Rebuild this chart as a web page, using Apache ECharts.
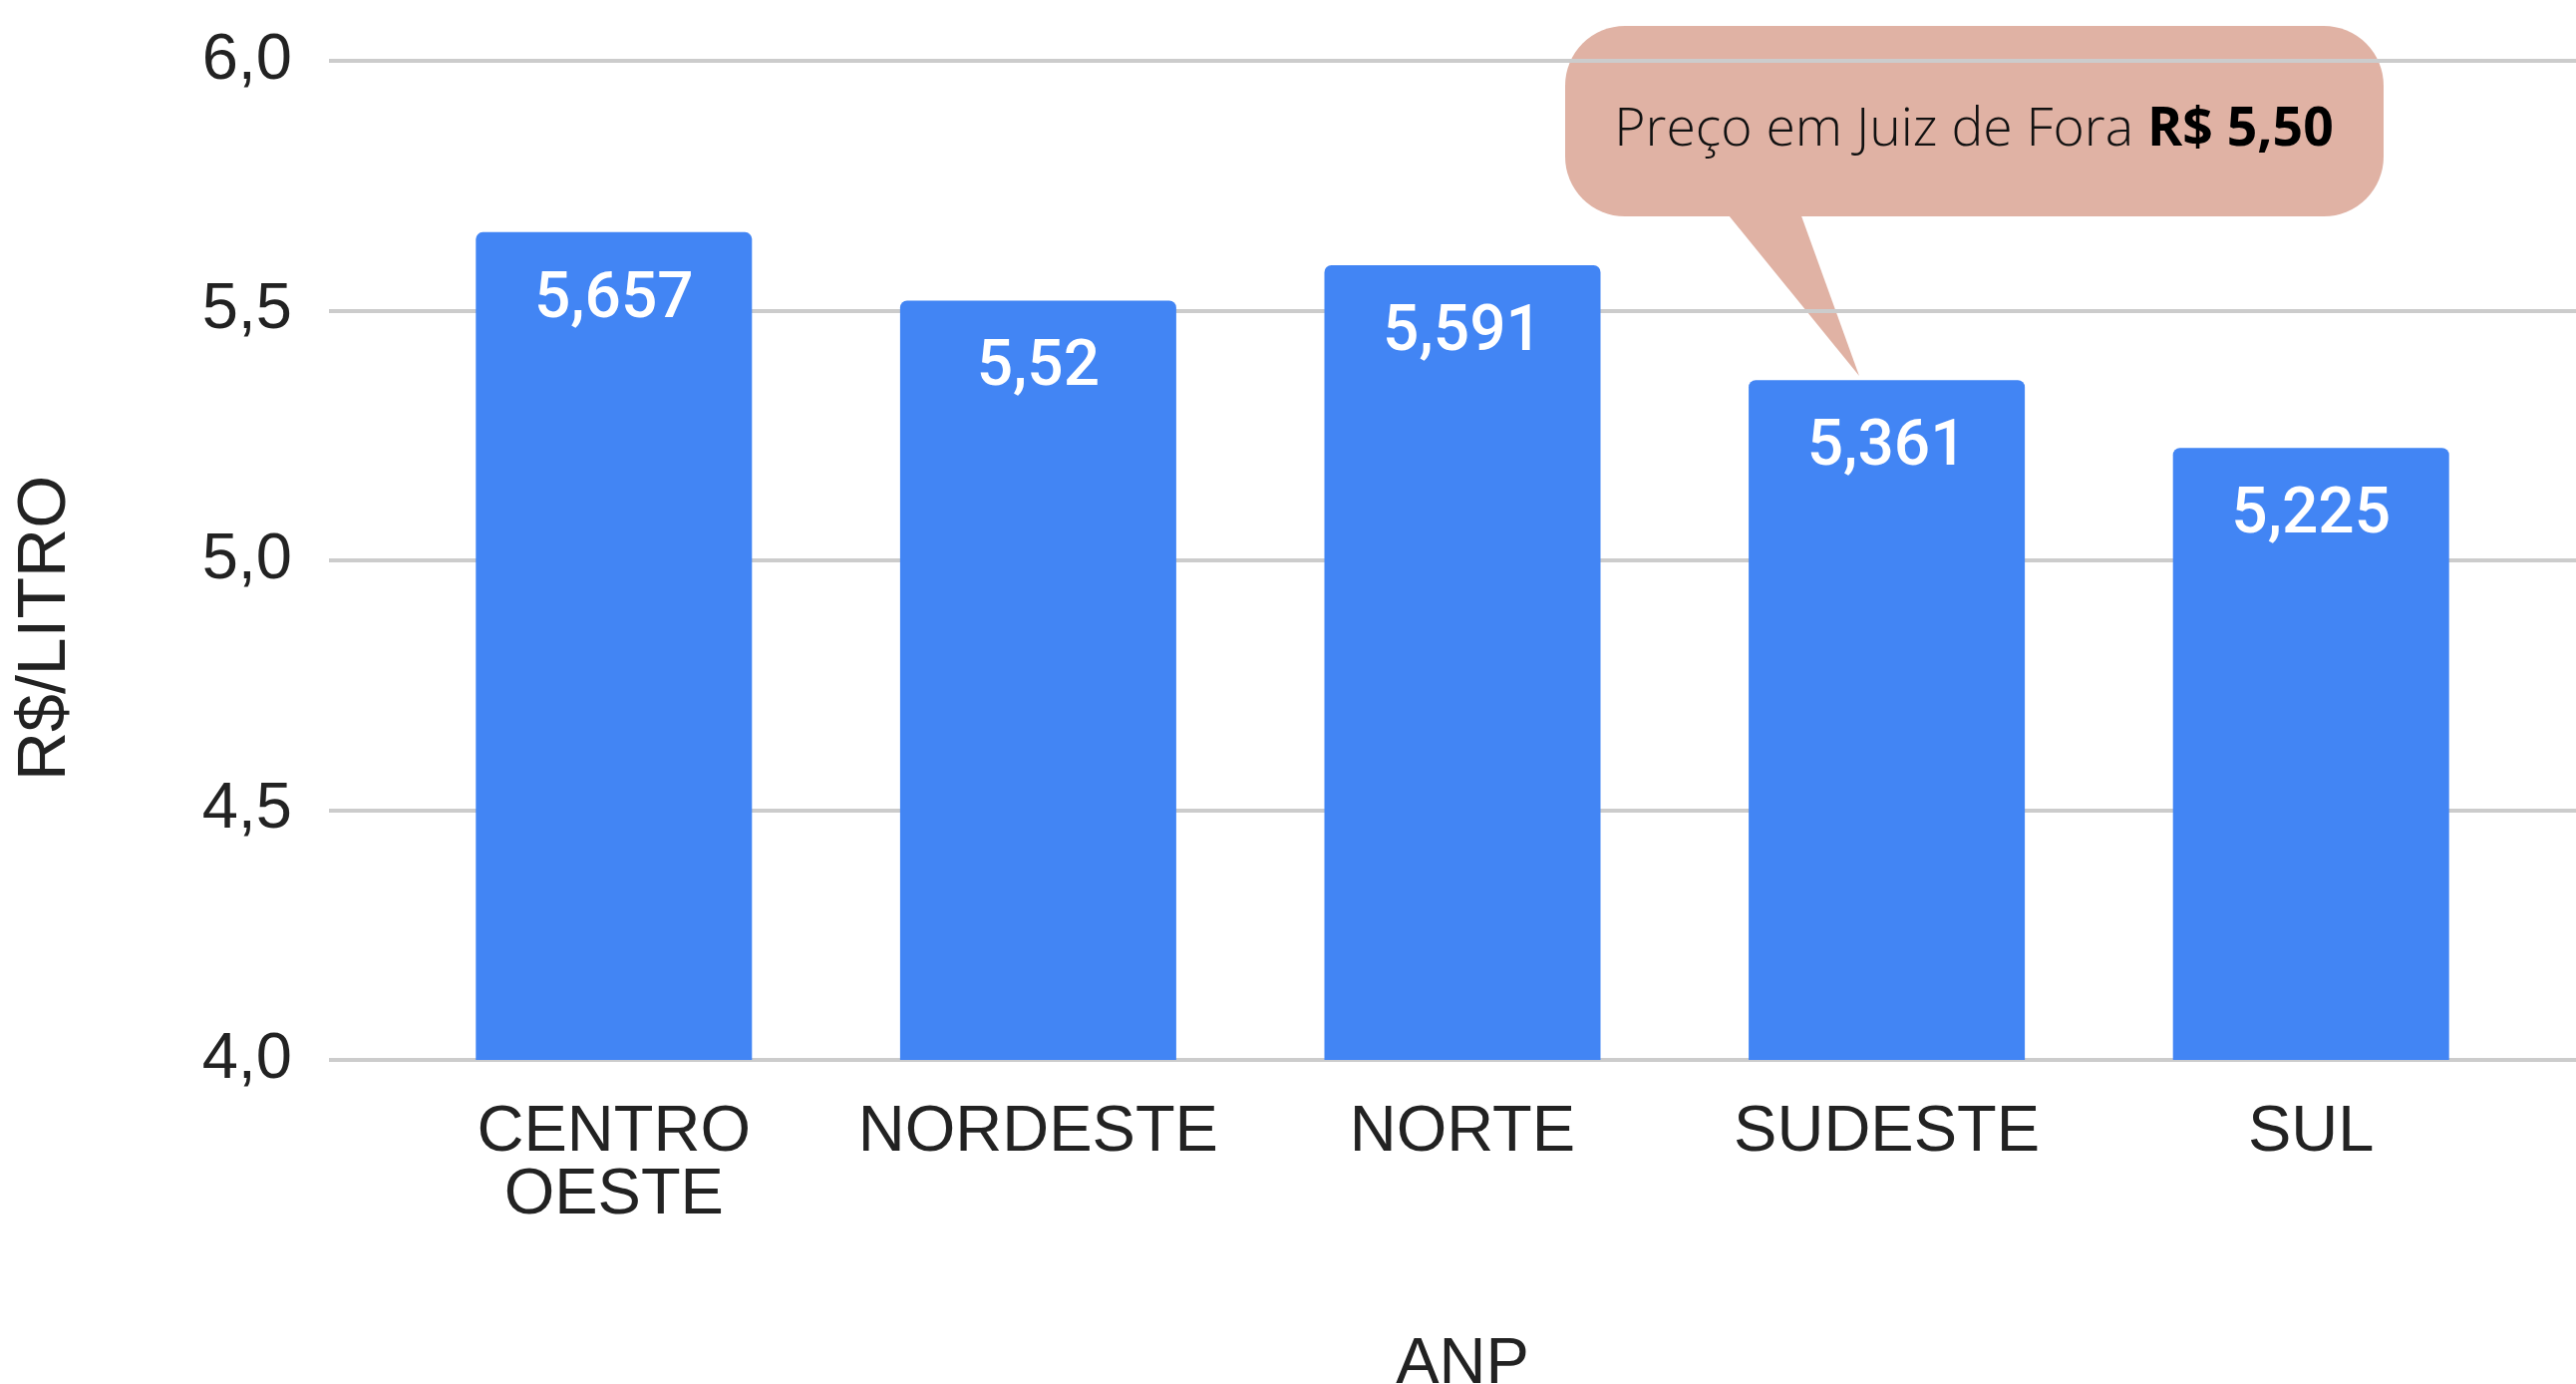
<!DOCTYPE html>
<html>
<head>
<meta charset="utf-8">
<title>Preço R$/litro por região</title>
<script src="https://cdn.jsdelivr.net/npm/echarts@6/dist/echarts.min.js"></script>
<style>
  html, body { margin: 0; padding: 0; background: #fff; }
  #main { width: 2584px; height: 1388px; }
</style>
</head>
<body>
<div id="main"></div>
<script>
// dados (ANP)
var regioes = ['CENTRO\nOESTE', 'NORDESTE', 'NORTE', 'SUDESTE', 'SUL'];
var precos = [5.657, 5.52, 5.591, 5.361, 5.225];
var yMin = 4, yMax = 6, yStep = 0.5;

var chart = echarts.init(document.getElementById('main'));

function virgula(v) { return String(v).replace('.', ','); }

var option = {
  animation: false,
  backgroundColor: '#ffffff',
  grid: [
    // grade das linhas horizontais (vai ate a borda direita)
    { left: 330, right: 0, top: 61, bottom: 325, outerBoundsMode: 'none' },
    // grade das barras
    { left: 403, right: 53, top: 61, bottom: 325, outerBoundsMode: 'none' }
  ],
  xAxis: [
    { gridIndex: 0, type: 'value', show: false, min: 0, max: 1 },
    {
      gridIndex: 1, type: 'category', data: regioes,
      axisLine: { show: false }, axisTick: { show: false },
      axisLabel: {
        color: '#222', fontFamily: 'Liberation Sans, Arial, sans-serif',
        fontSize: 65, lineHeight: 63, margin: 42, interval: 0
      },
      name: 'ANP', nameLocation: 'middle', nameGap: 274,
      nameTextStyle: { color: '#222', fontFamily: 'Liberation Sans, Arial, sans-serif', fontSize: 65 }
    }
  ],
  yAxis: [
    {
      gridIndex: 0, type: 'value', min: yMin, max: yMax, interval: yStep,
      axisLine: { show: false }, axisTick: { show: false },
      splitLine: { lineStyle: { color: '#cccccc', width: 4 } },
      axisLabel: {
        color: '#222', fontFamily: 'Liberation Sans, Arial, sans-serif', fontSize: 65, margin: 37,
        formatter: function (v) { return v.toFixed(1).replace('.', ','); }
      },
      name: 'R$/LITRO', nameLocation: 'middle', nameGap: 250, nameRotate: 90,
      nameTextStyle: {
        color: '#222', fontFamily: 'Liberation Sans, Arial, sans-serif', fontSize: 68,
        padding: [0, 136, 0, 0]
      }
    },
    { gridIndex: 1, type: 'value', min: yMin, max: yMax, interval: yStep, show: false }
  ],
  series: [{
    type: 'bar', xAxisIndex: 1, yAxisIndex: 1,
    data: precos, barWidth: 277,
    itemStyle: { color: '#4285F4', borderRadius: [7, 7, 0, 0] },
    label: {
      show: true, position: 'insideTop', distance: 37,
      color: '#ffffff', fontFamily: 'Roboto, sans-serif', fontWeight: 500, fontSize: 64,
      formatter: function (p) { return virgula(p.value); }
    }
  }],
  graphic: [{
    type: 'group', z: 100,
    children: [
      {
        type: 'polygon',
        shape: { points: [[1721, 200], [1801, 200], [1865, 377]] },
        style: { fill: '#E0B2A4' }
      },
      {
        type: 'rect',
        shape: { x: 1570, y: 26, width: 821, height: 191, r: 60 },
        style: { fill: '#E0B2A4' }
      },
      {
        type: 'text', x: 1980, y: 131,
        style: {
          text: '{a|Preço em Juiz de Fora }{b|R$ 5,50}',
          align: 'center', verticalAlign: 'middle',
          rich: {
            a: { fontFamily: 'Open Sans', fontWeight: 300, fontSize: 53.5, fill: '#111' },
            b: { fontFamily: 'Open Sans', fontWeight: 'bold', fontSize: 53.5, fill: '#000' }
          }
        }
      }
    ]
  }]
};

chart.setOption(option);
</script>
</body>
</html>
